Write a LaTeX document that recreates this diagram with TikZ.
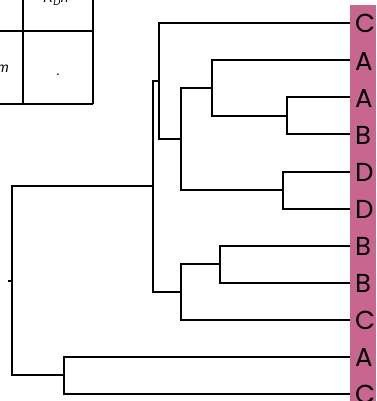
\documentclass[tikz,border=0pt]{standalone}
\usepackage{fontspec}
\setmainfont{Liberation Sans}
\newfontfamily\leaffont{Poppins}
\definecolor{leafpink}{RGB}{200,102,144}
\begin{document}
\begin{tikzpicture}[x=1pt,y=-1pt,
  branch/.style={line width=2pt,line join=miter},
  grid/.style={line width=2pt},
  leaflabel/.style={anchor=west,inner sep=0pt,font=\leaffont\fontsize{26}{26}\selectfont},
  celltext/.style={inner sep=0pt,font=\fontsize{14}{14}\selectfont}]
\useasboundingbox (0,0) rectangle (376,401);
\clip (0,0) rectangle (376,401);
% table fragment
\draw[grid] (23,0) -- (23,104);
\draw[grid] (93,0) -- (93,104);
\draw[grid] (0,31) -- (93,31);
\draw[grid] (0,104) -- (93,104);
\node[celltext,anchor=base] (th) at (56,3) {\textit{R}\textsubscript{\textit{D}}\textit{h}};
\node[celltext,anchor=base east] (tm) at (9,73) {\textit{m}};
\node[celltext,anchor=base] (td) at (58,76) {.};
% pink strip
\fill[leafpink] (350,5) rectangle (376,401);
% leaves
\foreach \i/\y/\t in {0/22.7/C,1/60/A,2/97.3/A,3/134.3/B,4/171.5/D,5/208.5/D,6/245.5/B,7/282.5/B,8/319.5/C,9/356.5/A,10/393.5/C}{
  \coordinate (L\i) at (350,\y);
  \node[leaflabel] (T\i) at (355,\y+1) {\t};
}
% internal nodes
\coordinate (n23) at (287,115.8);
\coordinate (n123) at (211.7,87.9);
\coordinate (n45) at (282.7,190);
\coordinate (n12345) at (180.7,139);
\coordinate (n05) at (159,80.8);
\coordinate (n67) at (220,264);
\coordinate (n678) at (181.3,291.7);
\coordinate (nA) at (153.3,186.3);
\coordinate (n910) at (64,375);
\coordinate (root) at (11.7,280.6);
\coordinate (stub) at (8,280.6);
\draw[branch] (L2) -| (n23) |- (L3);
\draw[branch] (L1) -| (n123) |- (n23);
\draw[branch] (L4) -| (n45) |- (L5);
\draw[branch] (n123) -| (n12345) |- (n45);
\draw[branch] (L0) -| (n05) |- (n12345);
\draw[branch] (L6) -| (n67) |- (L7);
\draw[branch] (n67) -| (n678) |- (L8);
\draw[branch] (n05) -| (nA) |- (n678);
\draw[branch] (L9) -| (n910) |- (L10);
\draw[branch] (nA) -| (root) |- (n910);
\draw[branch] (root) -- (stub);
\end{tikzpicture}
\end{document}
